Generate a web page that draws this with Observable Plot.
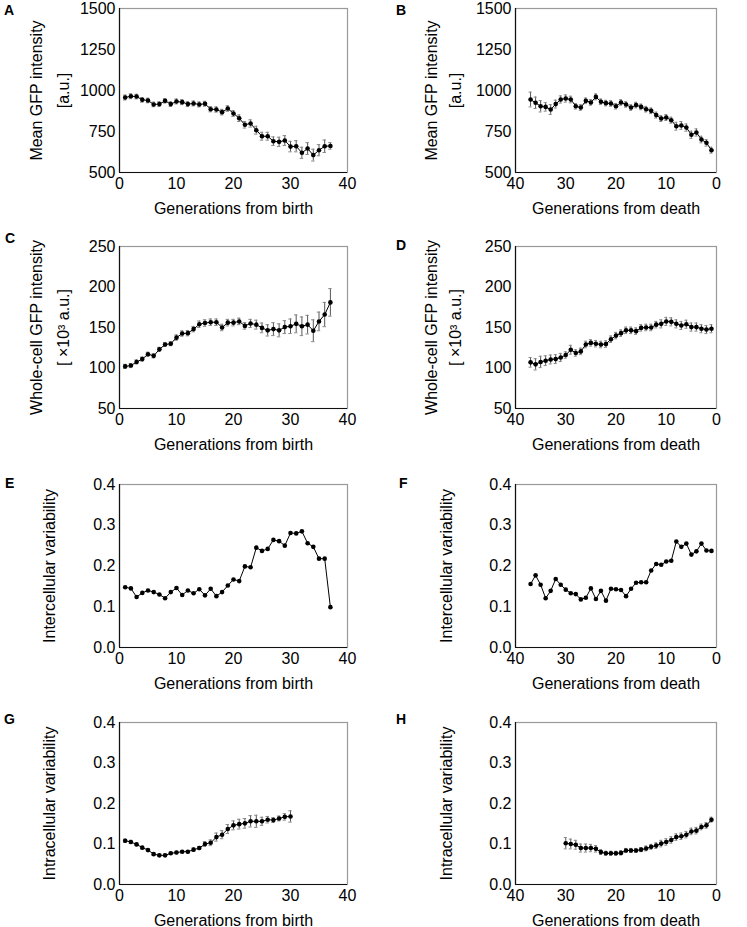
<!DOCTYPE html>
<html><head><meta charset="utf-8">
<script src="https://cdn.jsdelivr.net/npm/d3@7"></script>
<script src="https://cdn.jsdelivr.net/npm/@observablehq/plot@0.6"></script>
<style>
body{margin:0;background:#fff;}
#fig{position:relative;width:747px;height:927px;font-family:"Liberation Sans",Arial,sans-serif;background:#fff;}
.panel{position:absolute;}
.letter{position:absolute;font-weight:bold;font-size:14px;line-height:14px;font-family:"Liberation Sans",Arial,sans-serif;}
</style></head><body><div id="fig"></div>
<script>
// Generation indices
const gensBirth37 = [1,2,3,4,5,6,7,8,9,10,11,12,13,14,15,16,17,18,19,20,21,22,23,24,25,26,27,28,29,30,31,32,33,34,35,36,37];
const gensDeath37 = [37,36,35,34,33,32,31,30,29,28,27,26,25,24,23,22,21,20,19,18,17,16,15,14,13,12,11,10,9,8,7,6,5,4,3,2,1];
const gensBirth30 = [1,2,3,4,5,6,7,8,9,10,11,12,13,14,15,16,17,18,19,20,21,22,23,24,25,26,27,28,29,30];
const gensDeath30 = [30,29,28,27,26,25,24,23,22,21,20,19,18,17,16,15,14,13,12,11,10,9,8,7,6,5,4,3,2,1];

// A: mean GFP vs generations from birth
const meanBirth = [957,965,963,943,939,915,917,937,917,933,929,917,921,915,919,886,884,868,890,860,831,791,799,758,721,721,691,687,695,658,660,620,646,606,636,660,662];
const meanBirthErr = [15,15,14,14,14,14,14,13,14,15,15,15,15,15,15,16,16,17,17,18,20,20,22,24,24,24,26,28,30,32,34,34,36,36,34,38,20];
// B: mean GFP vs generations from death
const meanDeath = [945,925,904,900,884,917,945,951,945,904,896,937,927,961,931,923,921,904,927,915,896,911,900,886,876,850,829,835,819,782,787,774,730,744,701,681,636];
const meanDeathErr = [45,35,35,26,30,24,22,22,20,17,17,17,17,18,17,17,17,17,17,17,17,17,17,17,17,18,18,18,18,24,24,22,22,22,20,20,18];
// C: whole-cell GFP vs birth
const wholeBirth = [102,103,107.5,111,117,115,123,129,130,137.5,142.5,143,148,154,155.5,156.5,156.5,150,156,156,157.5,152,155,153.5,149.5,146.5,148,146.5,150.5,151.5,154.5,151.5,153.5,146,157.5,166,181];
const wholeBirthErr = [2.5,2.5,2.5,2.5,2.5,2.5,2.5,2.5,2.5,3.3,3.3,3.3,3.3,4,4,4,4,4,4,4,4,4,5,5.5,6,7,8,8,8,9,11,11.5,11.5,13.5,11.5,15,17];
// D: whole-cell GFP vs death
const wholeDeath = [107,104.5,107.5,109,110.5,111,113,116,122.5,118.5,120.5,129,131,130,129,129.5,135.5,140,143,146.5,146.5,145.5,149.5,150,150,153.5,154.5,157.5,157,154.5,152.5,154,150.5,150.5,148.5,147.5,148.5];
const wholeDeathErr = [6,7,7,6,5.5,5.5,5,4,5.5,4,4,4,4,4,4,4,4,4,4,4,4,4,4,4,4,4,5,5,5,5,5,5,5,5,5,5,5];
// E: intercellular variability vs birth
const interBirth = [0.148,0.145,0.124,0.134,0.140,0.136,0.130,0.121,0.136,0.146,0.129,0.140,0.133,0.143,0.128,0.144,0.126,0.136,0.152,0.167,0.163,0.199,0.197,0.245,0.237,0.242,0.264,0.261,0.250,0.281,0.280,0.285,0.256,0.247,0.218,0.218,0.099];
// F: intercellular variability vs death
const interDeath = [0.156,0.177,0.154,0.121,0.139,0.168,0.154,0.142,0.133,0.131,0.118,0.122,0.145,0.119,0.139,0.115,0.144,0.143,0.141,0.126,0.144,0.159,0.160,0.160,0.189,0.205,0.203,0.211,0.213,0.260,0.247,0.255,0.228,0.236,0.255,0.238,0.237];
// G: intracellular variability vs birth
const intraBirth = [0.108,0.105,0.099,0.091,0.085,0.075,0.072,0.072,0.077,0.079,0.081,0.081,0.086,0.090,0.100,0.103,0.117,0.123,0.137,0.146,0.149,0.151,0.156,0.156,0.156,0.160,0.159,0.163,0.167,0.168];
const intraBirthErr = [0.004,0.004,0.003,0.003,0.003,0.003,0.003,0.003,0.003,0.003,0.003,0.003,0.004,0.004,0.006,0.007,0.010,0.010,0.011,0.011,0.012,0.012,0.014,0.015,0.010,0.008,0.006,0.006,0.008,0.014];
// H: intracellular variability vs death
const intraDeath = [0.102,0.100,0.098,0.090,0.090,0.090,0.088,0.080,0.077,0.077,0.077,0.078,0.084,0.084,0.084,0.086,0.089,0.093,0.096,0.101,0.105,0.110,0.117,0.119,0.123,0.131,0.133,0.142,0.146,0.160];
const intraDeathErr = [0.014,0.012,0.011,0.010,0.010,0.009,0.008,0.006,0.005,0.005,0.005,0.005,0.005,0.005,0.005,0.005,0.006,0.006,0.007,0.008,0.008,0.008,0.008,0.008,0.008,0.008,0.008,0.007,0.007,0.006];

// Axis ticks and labels
const xTicks = [0,10,20,30,40];
const meanTicks = [500,750,1000,1250,1500];
const wholeTicks = [50,100,150,200,250];
const varTicks = [0,0.1,0.2,0.3,0.4];
const xTitleBirth = "Generations from birth";
const xTitleDeath = "Generations from death";
const yMean = ["Mean GFP intensity", "[a.u.]"];
const yWhole = ["Whole-cell GFP intensity", "[ ×10³ a.u.]"];
const yInter = ["Intercellular variability"];
const yIntra = ["Intracellular variability"];

const rows = [
  {top: 0, height: 225, mt: 8, mb: 53},
  {top: 225, height: 235, mt: 21, mb: 52},
  {top: 460, height: 230, mt: 24, mb: 43},
  {top: 690, height: 237, mt: 32, mb: 43}
];
const cols = [
  {left: 0, width: 373, ml: 119, mr: 26, dx: [-83, -56], dx1: -70, xdom: [0, 40], title: xTitleBirth},
  {left: 373, width: 374, ml: 142, mr: 31, dx: [-84, -60], dx1: -69, xdom: [40, 0], title: xTitleDeath}
];

const panels = [
  {letter: "A", r: 0, c: 0, g: gensBirth37, v: meanBirth, e: meanBirthErr, ydom: [500,1500], yt: meanTicks, fmt: d3.format("d"), yl: yMean, lx: 4, ly: 3},
  {letter: "B", r: 0, c: 1, g: gensDeath37, v: meanDeath, e: meanDeathErr, ydom: [500,1500], yt: meanTicks, fmt: d3.format("d"), yl: yMean, lx: 396, ly: 3},
  {letter: "C", r: 1, c: 0, g: gensBirth37, v: wholeBirth, e: wholeBirthErr, ydom: [50,250], yt: wholeTicks, fmt: d3.format("d"), yl: yWhole, lx: 5, ly: 231},
  {letter: "D", r: 1, c: 1, g: gensDeath37, v: wholeDeath, e: wholeDeathErr, ydom: [50,250], yt: wholeTicks, fmt: d3.format("d"), yl: yWhole, lx: 396, ly: 238},
  {letter: "E", r: 2, c: 0, g: gensBirth37, v: interBirth, e: null, ydom: [0,0.4], yt: varTicks, fmt: d3.format(".1f"), yl: yInter, lx: 5, ly: 476},
  {letter: "F", r: 2, c: 1, g: gensDeath37, v: interDeath, e: null, ydom: [0,0.4], yt: varTicks, fmt: d3.format(".1f"), yl: yInter, lx: 399, ly: 476},
  {letter: "G", r: 3, c: 0, g: gensBirth30, v: intraBirth, e: intraBirthErr, ydom: [0,0.4], yt: varTicks, fmt: d3.format(".1f"), yl: yIntra, lx: 4, ly: 712},
  {letter: "H", r: 3, c: 1, g: gensDeath30, v: intraDeath, e: intraDeathErr, ydom: [0,0.4], yt: varTicks, fmt: d3.format(".1f"), yl: yIntra, lx: 396, ly: 712}
];

const fig = document.getElementById("fig");
for (const p of panels) {
  const R = rows[p.r], C = cols[p.c];
  const data = p.g.map((g, i) => ({g, v: p.v[i], e: p.e ? p.e[i] : 0}));
  const marks = [
    Plot.frame({stroke: "#999", strokeWidth: 1.2}),
    Plot.ruleX([C.xdom[0]], {stroke: "#111", strokeWidth: 1.2}),
    Plot.ruleY([p.ydom[0]], {stroke: "#111", strokeWidth: 1.2})
  ];
  if (p.e) {
    marks.push(
      Plot.ruleX(data, {x: "g", y1: d => d.v - d.e, y2: d => d.v + d.e, stroke: "#555", strokeWidth: 1}),
      Plot.ruleY(data, {y: d => d.v + d.e, x1: d => d.g - 0.3, x2: d => d.g + 0.3, stroke: "#888", strokeWidth: 1}),
      Plot.ruleY(data, {y: d => d.v - d.e, x1: d => d.g - 0.3, x2: d => d.g + 0.3, stroke: "#888", strokeWidth: 1})
    );
  }
  marks.push(
    Plot.line(data, {x: "g", y: "v", stroke: "#000", strokeWidth: 1}),
    Plot.dot(data, {x: "g", y: "v", r: 2.3, fill: "#000", stroke: "none"}),
    Plot.text([C.title], {frameAnchor: "bottom", dy: 36, textAnchor: "middle", lineAnchor: "middle", fontSize: 16, fill: "#000"})
  );
  if (p.yl.length === 2) {
    marks.push(
      Plot.text([p.yl[0]], {frameAnchor: "left", rotate: -90, dx: C.dx[0], textAnchor: "middle", lineAnchor: "middle", fontSize: 16, fill: "#000"}),
      Plot.text([p.yl[1]], {frameAnchor: "left", rotate: -90, dx: C.dx[1], textAnchor: "middle", lineAnchor: "middle", fontSize: 16, fill: "#000"})
    );
  } else {
    marks.push(Plot.text([p.yl[0]], {frameAnchor: "left", rotate: -90, dx: C.dx1, textAnchor: "middle", lineAnchor: "middle", fontSize: 16, fill: "#000"}));
  }
  const svg = Plot.plot({
    width: C.width, height: R.height,
    marginLeft: C.ml, marginRight: C.mr, marginTop: R.mt, marginBottom: R.mb,
    style: {fontFamily: "'Liberation Sans', Arial, sans-serif", fontSize: "16px", color: "#000", background: "transparent", overflow: "visible"},
    x: {domain: C.xdom, ticks: xTicks, tickSize: 0, tickPadding: 5, label: null},
    y: {domain: p.ydom, ticks: p.yt, tickSize: 0, tickPadding: 4, label: null, tickFormat: p.fmt},
    marks
  });
  const wrap = document.createElement("div");
  wrap.className = "panel";
  wrap.style.left = C.left + "px";
  wrap.style.top = R.top + "px";
  wrap.appendChild(svg);
  fig.appendChild(wrap);
  const lt = document.createElement("div");
  lt.className = "letter";
  lt.textContent = p.letter;
  lt.style.left = p.lx + "px";
  lt.style.top = p.ly + "px";
  fig.appendChild(lt);
}
</script>
</body></html>
